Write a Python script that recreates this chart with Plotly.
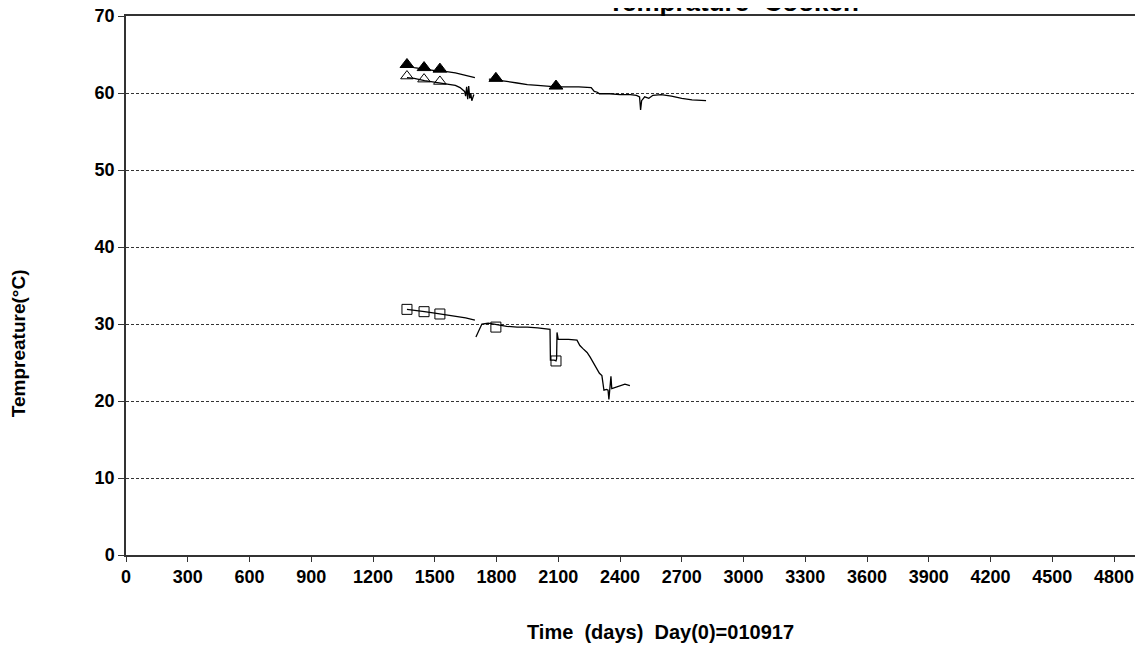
import plotly.graph_objects as go

# Upper series (filled triangles)
s1_days = [1365, 1400, 1450, 1500, 1550, 1600, 1650, 1695, None, 1763, 1800, 1850, 1900, 1950, 2000, 2050, 2089, 2150, 2200, 2260, 2275, 2290, 2300, 2350, 2400, 2450, 2480, 2495, 2500, 2505, 2520, 2540, 2560, 2600, 2650, 2700, 2750, 2818]
s1_temp = [63.6, 63.3, 63.1, 62.9, 62.8, 62.6, 62.3, 62.0, None, 61.8, 61.7, 61.5, 61.3, 61.1, 61.0, 60.9, 60.8, 60.8, 60.8, 60.7, 60.2, 60.1, 59.9, 59.9, 59.8, 59.8, 59.7, 59.5, 57.8, 59.0, 59.5, 59.3, 59.7, 59.8, 59.6, 59.3, 59.1, 59.0]
s1_mark_days = [1365, 1448, 1525, 1797, 2089]
s1_mark_temp = [63.7, 63.3, 63.1, 61.9, 60.9]

# Middle series (open triangles)
s2_days = [1365, 1400, 1450, 1500, 1550, 1600, 1623, 1635, 1645, 1650, 1655, 1660, 1665, 1670, 1675, 1680, 1690]
s2_temp = [62.0, 61.9, 61.6, 61.4, 61.2, 61.0, 60.7, 60.4, 60.2, 59.6, 60.8, 59.2, 60.9, 59.3, 60.0, 59.0, 59.8]
s2_mark_days = [1365, 1448, 1525]
s2_mark_temp = [62.2, 61.8, 61.5]

# Lower series (open squares)
s3_days = [1365, 1400, 1450, 1500, 1550, 1600, 1650, 1695, None, 1700, 1715, 1729, 1760, 1800, 1850, 1900, 1950, 2000, 2040, 2060, 2062, 2080, 2089, 2092, 2094, 2100, 2108, 2150, 2191, 2205, 2220, 2240, 2255, 2269, 2288, 2300, 2312, 2322, 2335, 2342, 2346, 2350, 2356, 2360, 2385, 2424, 2448]
s3_temp = [31.9, 31.8, 31.6, 31.4, 31.2, 31.0, 30.8, 30.5, None, 28.3, 29.3, 30.0, 30.1, 29.9, 29.7, 29.6, 29.6, 29.5, 29.4, 29.3, 25.3, 25.3, 25.2, 25.5, 28.9, 28.0, 28.0, 28.0, 27.9, 27.2, 26.8, 26.3, 25.7, 25.0, 24.0, 23.6, 23.3, 21.4, 21.5, 21.4, 20.2, 21.8, 23.2, 21.6, 21.8, 22.2, 22.0]
s3_mark_days = [1365, 1448, 1525, 1797, 2089]
s3_mark_temp = [31.9, 31.6, 31.3, 29.6, 25.2]

x_ticks = list(range(0, 4801, 300))
y_ticks = list(range(0, 71, 10))

fig = go.Figure()
line = dict(color="black", width=1.3)
for d, t in [(s1_days, s1_temp), (s2_days, s2_temp), (s3_days, s3_temp)]:
    fig.add_trace(go.Scatter(x=d, y=t, mode="lines", line=line, showlegend=False, connectgaps=False))

fig.add_trace(go.Scatter(x=s1_mark_days, y=s1_mark_temp, mode="markers", showlegend=False,
                         marker=dict(symbol="triangle-up", size=12, color="black", line=dict(color="black", width=1))))
fig.add_trace(go.Scatter(x=s2_mark_days, y=s2_mark_temp, mode="markers", showlegend=False,
                         marker=dict(symbol="triangle-up-open", size=11, color="black", line=dict(color="black", width=1))))
fig.add_trace(go.Scatter(x=s3_mark_days, y=s3_mark_temp, mode="markers", showlegend=False,
                         marker=dict(symbol="square-open", size=10, color="black", line=dict(color="black", width=1))))

FAM = "Liberation Sans, Arial, sans-serif"
tfont = dict(family=FAM, size=18, color="black")
fig.update_layout(
    width=1135, height=640,
    margin=dict(l=118, r=8, t=8, b=93, autoexpand=False),
    paper_bgcolor="white", plot_bgcolor="white",
    font=tfont,
    xaxis=dict(range=[0, 4902], tickvals=x_ticks, ticktext=[f"<b>{v}</b>" for v in x_ticks],
               automargin=False, ticklabeloverflow="allow",
               showgrid=False, zeroline=False, showline=True, linecolor="#333", linewidth=1.5,
               mirror=True, ticks="outside", ticklen=5, tickcolor="#333", tickfont=tfont),
    yaxis=dict(range=[0, 70], tickvals=y_ticks, ticktext=[f"<b>{v}</b>" for v in y_ticks],
               automargin=False, ticklabeloverflow="allow",
               showgrid=True, gridcolor="#333", griddash="3px,2px", gridwidth=1,
               zeroline=False, showline=True, linecolor="#333", linewidth=1.5,
               mirror=True, ticks="outside", ticklen=6, tickcolor="#333", tickfont=tfont),
    annotations=[
        dict(text="<b>Temprature  Cooken</b>", xref="paper", yref="paper", x=0.6016, y=1,
             xanchor="center", yanchor="bottom", yshift=-3, showarrow=False,
             font=dict(family=FAM, size=26, color="black")),
        dict(text="<b>Tempreature(°C)</b>", xref="paper", yref="paper", x=0, y=0.393,
             xanchor="center", yanchor="middle", xshift=-108, textangle=-90, showarrow=False,
             font=dict(family=FAM, size=19, color="black")),
        dict(text="<b>Time  (days)  Day(0)=010917</b>", xref="paper", yref="paper", x=0.5297, y=0,
             xanchor="center", yanchor="middle", yshift=-77, showarrow=False,
             font=dict(family=FAM, size=20, color="black")),
    ],
)

fig.write_html("out.html")
